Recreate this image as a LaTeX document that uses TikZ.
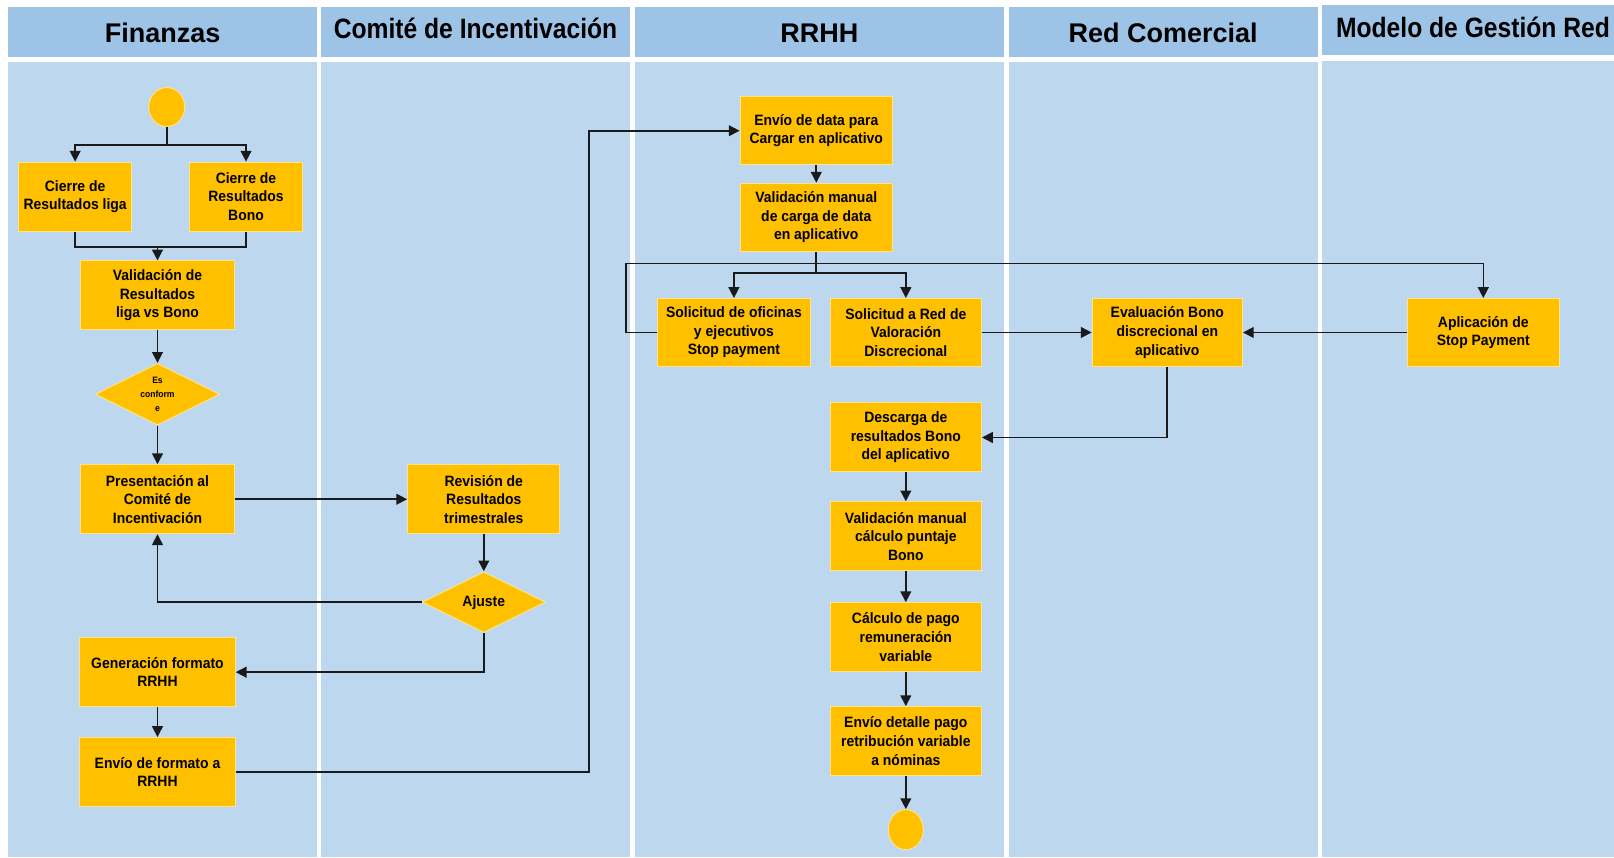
\documentclass[tikz,border=0pt]{standalone}
\usepackage{fontspec}
\setmainfont{Liberation Sans}
\newfontfamily\narrowsans{Liberation Sans}[FakeStretch=0.88]
\newfontfamily\boxsans{Liberation Sans}[FakeStretch=0.93]
\usetikzlibrary{arrows.meta,shapes.geometric,calc}

\definecolor{lanebody}{HTML}{BDD7EE}
\definecolor{lanehead}{HTML}{9DC3E6}
\definecolor{stepfill}{HTML}{FFC000}
\definecolor{wire}{HTML}{1A1A1A}
\def\u{0.51465pt}

\begin{document}
\begin{tikzpicture}[x=0.51465pt, y=-0.51465pt,
  stepbox/.style={rectangle, fill=stepfill, draw=stepfill!45!white, line width=0.5pt,
    align=center, inner sep=1pt, font=\boxsans\fontsize{7.5}{9.3}\selectfont\bfseries,
    minimum width=148*\u, minimum height=66*\u},
  decision/.style={diamond, fill=stepfill, draw=stepfill!45!white, line width=0.5pt,
    aspect=2, inner sep=0pt, align=center,
    minimum width=121*\u, minimum height=60*\u},
  terminal/.style={ellipse, fill=stepfill, draw=stepfill!45!white, line width=0.5pt,
    inner sep=0pt, minimum width=35*\u, minimum height=38*\u},
  headtext/.style={font=\fontsize{13.5}{16}\selectfont\bfseries},
  headnarrow/.style={font=\narrowsans\fontsize{14}{16}\selectfont\bfseries},
  arr/.style={draw=wire, line width=0.8pt, -{Triangle[length=5.4pt,width=5.4pt]}},
  wireline/.style={draw=wire, line width=0.8pt}
]
\useasboundingbox (0,0) rectangle (1568,833);
\fill[white] (0,0) rectangle (1568,833);

% swimlane bodies
\fill[lanebody] (8,60) rectangle (308,833);
\fill[lanebody] (312,60) rectangle (612,833);
\fill[lanebody] (617,60) rectangle (975,833);
\fill[lanebody] (980,60) rectangle (1280,833);
\fill[lanebody] (1284,59) rectangle (1568,833);

% swimlane headers
\fill[lanehead] (8,7) rectangle (308,55);
\fill[lanehead] (312,7) rectangle (612,55);
\fill[lanehead] (617,7) rectangle (975,55);
\fill[lanehead] (980,7) rectangle (1280,55);
\fill[lanehead] (1284,5) rectangle (1568,53);

\node[headtext]   (hfin) at (158,32)  {Finanzas};
\node[headnarrow] (hcom) at (462,28)  {Comité de Incentivación};
\node[headtext]   (hrh)  at (796,32)  {RRHH};
\node[headtext]   (hred) at (1130,32) {Red Comercial};
\node[headnarrow] (hmod) at (1431,27) {Modelo de Gestión Red};

% Finanzas
\node[terminal] (start) at (162,104) {};
\node[stepbox, minimum width=110*\u, minimum height=67*\u] (liga) at (73,191) {Cierre de\\Resultados liga};
\node[stepbox, minimum width=110*\u, minimum height=67*\u] (bono) at (239,191) {Cierre de\\Resultados\\Bono};
\node[stepbox, minimum width=150*\u, minimum height=67*\u] (valid) at (153,287) {Validación de\\Resultados\\liga vs Bono};
\node[decision, font=\boxsans\fontsize{4.6}{7}\selectfont\bfseries] (conf) at (153,383) {Es\\conform\\e};
\node[stepbox, minimum width=150*\u, minimum height=67*\u] (pres) at (153,485) {Presentación al\\Comité de\\Incentivación};
\node[stepbox, minimum width=151*\u, minimum height=67*\u] (gen) at (153,653) {Generación formato\\RRHH};
\node[stepbox, minimum width=151*\u, minimum height=67*\u] (envf) at (153,750) {Envío de formato a\\RRHH};

% Comité de Incentivación
\node[stepbox, minimum height=67*\u] (rev) at (470,485) {Revisión de\\Resultados\\trimestrales};
\node[decision, minimum width=120*\u, minimum height=59*\u, font=\boxsans\fontsize{7.5}{9.3}\selectfont\bfseries] (ajus) at (470,585) {Ajuste};

% RRHH
\node[stepbox] (envd) at (793,127) {Envío de data para\\Cargar en aplicativo};
\node[stepbox] (valm) at (793,211) {Validación manual\\de carga de data\\en aplicativo};
\node[stepbox] (soli) at (713,323) {Solicitud de oficinas\\y ejecutivos\\Stop payment};
\node[stepbox, minimum width=147*\u] (solr) at (880,323) {Solicitud a Red de\\Valoración\\Discrecional};
\node[stepbox, minimum width=147*\u, minimum height=67*\u] (desc) at (880,425) {Descarga de\\resultados Bono\\del aplicativo};
\node[stepbox, minimum width=147*\u, minimum height=67*\u] (vcal) at (880,521) {Validación manual\\cálculo puntaje\\Bono};
\node[stepbox, minimum width=147*\u, minimum height=67*\u] (calc) at (880,619) {Cálculo de pago\\remuneración\\variable};
\node[stepbox, minimum width=147*\u, minimum height=67*\u] (envn) at (880,720) {Envío detalle pago\\retribución variable\\a nóminas};
\node[terminal, minimum width=34*\u, minimum height=39*\u] (fin) at (880,806) {};

% Red Comercial
\node[stepbox, minimum width=146*\u] (eval) at (1134,323) {Evaluación Bono\\discrecional en\\aplicativo};

% Modelo de Gestión Red
\node[stepbox] (apl) at (1441,323) {Aplicación de\\Stop Payment};

% junction points of the connectors
\coordinate (splitA) at (162,141);
\coordinate (joinA)  at (153,240);
\coordinate (busX)   at (572,400);
\coordinate (splitB) at (793,265);
\coordinate (stopY)  at (608,256);

% connectors, Finanzas / Comité
\draw[wireline] (start) -- (splitA);
\draw[arr] (splitA) -| (liga);
\draw[arr] (splitA) -| (bono);
\draw[wireline] (liga.south) |- (joinA);
\draw[wireline] (bono.south) |- (joinA);
\draw[arr] (joinA) -- (valid);
\draw[arr] (valid) -- (conf);
\draw[arr] (conf) -- (pres);
\draw[arr] (pres) -- (rev);
\draw[arr] (rev) -- (ajus);
\draw[arr] (ajus.west) -| (pres.south);
\draw[arr] (ajus.south) |- (gen.east);
\draw[arr] (gen) -- (envf);
\draw[arr] (envf.east) -| (busX) |- (envd.west);

% connectors, RRHH / Red Comercial / Modelo
\draw[arr] (envd) -- (valm);
\draw[wireline] (valm.south) -- (splitB);
\draw[arr] (splitB) -| (soli);
\draw[arr] (splitB) -| (solr);
\draw[arr] (soli.west) -| (stopY) -| (apl);
\draw[arr] (solr.east) -- (eval.west);
\draw[arr] (apl.west) -- (eval.east);
\draw[arr] (eval.south) |- (desc.east);
\draw[arr] (desc) -- (vcal);
\draw[arr] (vcal) -- (calc);
\draw[arr] (calc) -- (envn);
\draw[arr] (envn) -- (fin);
\end{tikzpicture}
\end{document}
